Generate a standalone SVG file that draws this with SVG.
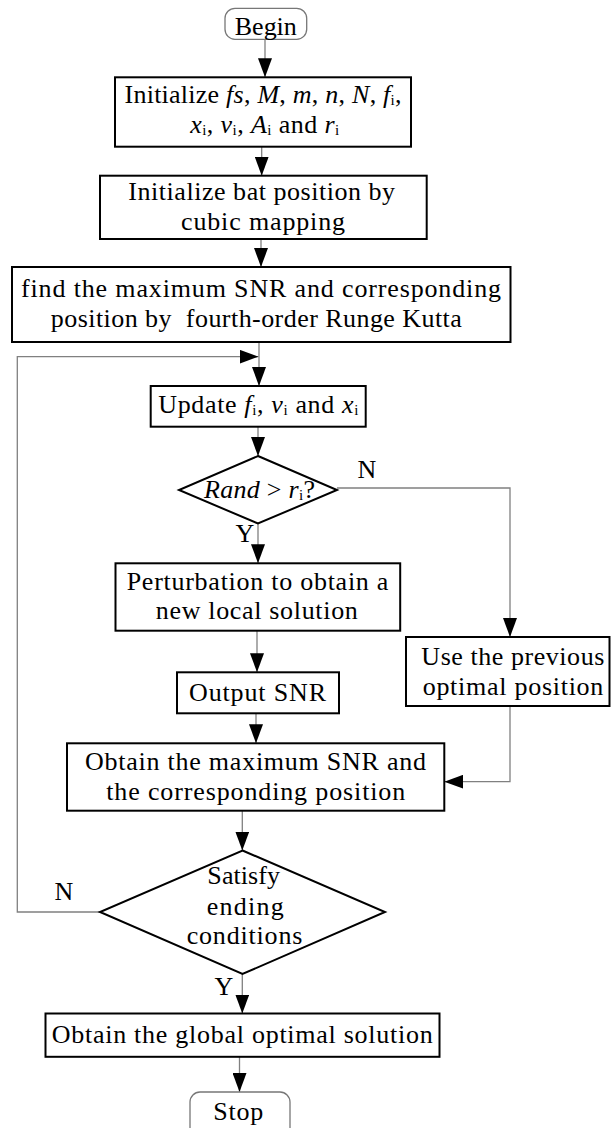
<svg xmlns="http://www.w3.org/2000/svg" width="611" height="1128" viewBox="0 0 611 1128">
<style>
.t{font-family:"Liberation Serif","Times New Roman",serif;font-size:26px;fill:#000;text-anchor:middle}
.l{font-family:"Liberation Serif","Times New Roman",serif;font-size:26px;fill:#000;text-anchor:middle}
.i{font-style:italic}
.s{font-size:15px;font-style:normal}
.box{fill:#fff;stroke:#000;stroke-width:2}
.term{fill:#fff;stroke:#777;stroke-width:1.3}
.c{fill:none;stroke:#808080;stroke-width:1.3}
</style>
<defs>
<marker id="ah" markerUnits="userSpaceOnUse" markerWidth="20" markerHeight="14" refX="19" refY="7" orient="auto" viewBox="0 0 20 14">
<path d="M0,0 L19,7 L0,14 z" fill="#000"/>
</marker>
</defs>
<rect width="611" height="1128" fill="#fff"/>
<g id="connectors">
<line class="c" x1="265" y1="39.3" x2="265" y2="77.3" marker-end="url(#ah)"/>
<line class="c" x1="261.7" y1="146.7" x2="261.7" y2="175.7" marker-end="url(#ah)"/>
<line class="c" x1="261" y1="239" x2="261" y2="267" marker-end="url(#ah)"/>
<line class="c" x1="259" y1="342" x2="259" y2="386" marker-end="url(#ah)"/>
<polyline class="c" points="100,912 17.3,912 17.3,356.7 258.5,356.7" marker-end="url(#ah)"/>
<line class="c" x1="258" y1="426.7" x2="258" y2="456" marker-end="url(#ah)"/>
<polyline class="c" points="337,488 510,488 510,637" marker-end="url(#ah)"/>
<line class="c" x1="258" y1="523.5" x2="258" y2="563.3" marker-end="url(#ah)"/>
<line class="c" x1="257" y1="630.7" x2="257" y2="672.3" marker-end="url(#ah)"/>
<line class="c" x1="256" y1="713.3" x2="256" y2="743.3" marker-end="url(#ah)"/>
<polyline class="c" points="510,706 510,781.7 444.3,781.7" marker-end="url(#ah)"/>
<line class="c" x1="242.3" y1="810.7" x2="242.3" y2="850.5" marker-end="url(#ah)"/>
<line class="c" x1="242.3" y1="974" x2="242.3" y2="1013.5" marker-end="url(#ah)"/>
<line class="c" x1="239.5" y1="1056.7" x2="239.5" y2="1092" marker-end="url(#ah)"/>
<text class="l" x="367" y="478">N</text>
<text class="l" x="245" y="541.7">Y</text>
<text class="l" x="64" y="900">N</text>
<text class="l" x="224" y="995">Y</text>
</g>
<g id="begin">
<rect class="term" x="225" y="8.3" width="81.7" height="31" rx="10"/>
<text class="t" x="265.8" y="35" textLength="62" lengthAdjust="spacing">Begin</text>
</g>
<g id="init-params">
<rect class="box" x="115" y="77.3" width="296" height="69.4"/>
<text class="t" x="263" y="103.3" textLength="277" lengthAdjust="spacing">Initialize <tspan class="i">fs</tspan>, <tspan class="i">M</tspan>, <tspan class="i">m</tspan>, <tspan class="i">n</tspan>, <tspan class="i">N</tspan>, <tspan class="i">f</tspan><tspan class="s" dy="1.5">i</tspan><tspan dy="-1.5">,</tspan></text>
<text class="t" x="264.7" y="133.3" textLength="149" lengthAdjust="spacing"><tspan class="i">x</tspan><tspan class="s" dy="1.5">i</tspan><tspan dy="-1.5">, </tspan><tspan class="i">v</tspan><tspan class="s" dy="1.5">i</tspan><tspan dy="-1.5">, </tspan><tspan class="i">A</tspan><tspan class="s" dy="1.5">i</tspan><tspan dy="-1.5"> and </tspan><tspan class="i">r</tspan><tspan class="s" dy="1.5">i</tspan></text>
</g>
<g id="init-bat">
<rect class="box" x="100" y="175.7" width="326.7" height="63.3"/>
<text class="t" x="261.7" y="200" textLength="266.7" lengthAdjust="spacing">Initialize bat position by</text>
<text class="t" x="263" y="230" textLength="164" lengthAdjust="spacing">cubic mapping</text>
</g>
<g id="find-max">
<rect class="box" x="12" y="267" width="498.5" height="75"/>
<text class="t" x="261" y="296.7" textLength="480" lengthAdjust="spacing">find the maximum SNR and corresponding</text>
<text class="t" x="256.3" y="326.7" textLength="411" lengthAdjust="spacing" xml:space="preserve">position by  fourth-order Runge Kutta</text>
</g>
<g id="update">
<rect class="box" x="150.7" y="386" width="215" height="40.7"/>
<text class="t" x="258.3" y="413" textLength="200" lengthAdjust="spacing">Update <tspan class="i">f</tspan><tspan class="s" dy="1.5">i</tspan><tspan dy="-1.5">, </tspan><tspan class="i">v</tspan><tspan class="s" dy="1.5">i</tspan><tspan dy="-1.5"> and </tspan><tspan class="i">x</tspan><tspan class="s" dy="1.5">i</tspan></text>
</g>
<g id="rand-check">
<polygon class="box" points="258,456 337,490 258,523.5 179,490"/>
<text class="t" x="259.5" y="498" textLength="111" lengthAdjust="spacing"><tspan class="i">Rand</tspan> &gt; <tspan class="i">r</tspan><tspan class="s" dy="1.5">i</tspan><tspan dy="-1.5">?</tspan></text>
</g>
<g id="perturbation">
<rect class="box" x="115.5" y="563.3" width="284.7" height="67.4"/>
<text class="t" x="257.5" y="590" textLength="261.7" lengthAdjust="spacing">Perturbation to obtain a</text>
<text class="t" x="256.8" y="619.3" textLength="202" lengthAdjust="spacing">new local solution</text>
</g>
<g id="output-snr">
<rect class="box" x="177" y="672.3" width="162" height="41"/>
<text class="t" x="257.5" y="700.7" textLength="137" lengthAdjust="spacing">Output SNR</text>
</g>
<g id="use-previous">
<rect class="box" x="406" y="637" width="203.5" height="69"/>
<text class="t" x="512.8" y="665" textLength="183" lengthAdjust="spacing">Use the previous</text>
<text class="t" x="513" y="695" textLength="180.7" lengthAdjust="spacing">optimal position</text>
</g>
<g id="obtain-max">
<rect class="box" x="67" y="743.3" width="377.3" height="67.4"/>
<text class="t" x="255.5" y="770" textLength="341" lengthAdjust="spacing">Obtain the maximum SNR and</text>
<text class="t" x="255.7" y="800" textLength="299" lengthAdjust="spacing">the corresponding position</text>
</g>
<g id="ending-check">
<polygon class="box" points="242.5,850.5 385,912 242.5,974 100,912"/>
<text class="t" x="243.7" y="884" textLength="72.7" lengthAdjust="spacing">Satisfy</text>
<text class="t" x="245.3" y="915" textLength="77" lengthAdjust="spacing">ending</text>
<text class="t" x="244.5" y="944" textLength="115.7" lengthAdjust="spacing">conditions</text>
</g>
<g id="global">
<rect class="box" x="45.5" y="1013.5" width="394" height="43.3"/>
<text class="t" x="242.2" y="1043" textLength="381" lengthAdjust="spacing">Obtain the global optimal solution</text>
</g>
<g id="stop">
<rect class="term" x="190" y="1092" width="100" height="48" rx="10"/>
<text class="t" x="238.3" y="1120" textLength="50" lengthAdjust="spacing">Stop</text>
</g>
</svg>
